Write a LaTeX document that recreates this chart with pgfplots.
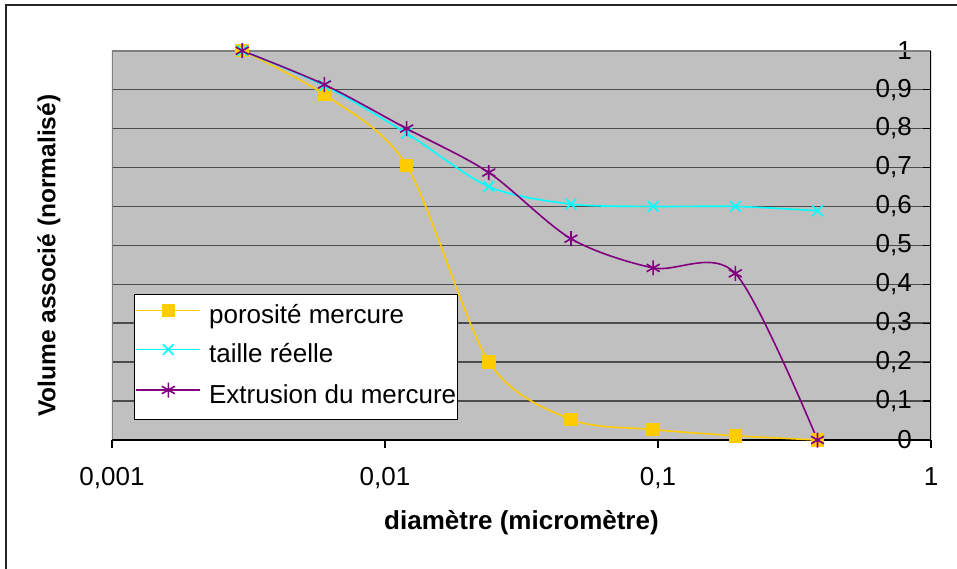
\documentclass[border=0pt]{standalone}
\usepackage{fontspec}
\setmainfont{Liberation Sans}
\usepackage{pgfplots}
\pgfplotsset{compat=1.18}
\definecolor{bgray}{RGB}{192,192,192}
\definecolor{myyellow}{RGB}{255,204,0}
\definecolor{mycyan}{RGB}{0,255,255}
\definecolor{mypurple}{RGB}{128,0,128}
\begin{document}
\begin{tikzpicture}[x=1pt,y=1pt]
\useasboundingbox (0,0) rectangle (957,568);
\draw[line width=1.2pt, black!85] (6,-20) -- (6,563) -- (980,563);
\begin{axis}[
  at={(112pt,128pt)}, anchor=south west,
  scale only axis, width=819pt, height=389.3pt,
  xmode=log, xmin=0.001, xmax=1, ymin=0, ymax=1,
  axis background/.style={fill=bgray},
  axis line style={draw=none},
  ymajorgrids, grid style={black!70, line width=1.5pt},
  xtick={0.001,0.01,0.1,1},
  xticklabels={{0,001},{0,01},{0,1},{1}},
  minor xtick={}, xminorticks=false,
  ytick={0,0.1,0.2,0.3,0.4,0.5,0.6,0.7,0.8,0.9,1},
  yticklabels={0,{0,1},{0,2},{0,3},{0,4},{0,5},{0,6},{0,7},{0,8},{0,9},1},
  xtick pos=bottom, xtick align=outside,
  ytick pos=right, ytick align=inside,
  yticklabel pos=right,
  major tick length=8pt,
  tick style={black, line width=1.2pt},
  xticklabel style={font=\fontsize{26}{30}\selectfont, inner sep=0pt, yshift=-19pt},
  yticklabel style={font=\fontsize{26}{30}\selectfont, anchor=east, inner sep=0pt, xshift=-19pt},
  xlabel={diamètre (micromètre)},
  ylabel={Volume associé (normalisé)},
  xlabel style={font=\fontsize{26}{30}\selectfont\bfseries, at={(axis description cs:0.5,0)}, anchor=center, yshift=-83pt},
  ylabel style={font=\fontsize{24.5}{28}\selectfont\bfseries, at={(axis description cs:0,0.473)}, anchor=center, yshift=63pt},
  legend style={at={(0.0269,0.375)}, anchor=north west, draw=black, fill=white, line width=1pt,
    font=\fontsize{26}{30}\selectfont, inner xsep=1pt, inner ysep=10pt, row sep=14pt, column sep=8pt,
    nodes={inner sep=0pt, text height=19pt, text depth=6pt}},
  legend cell align=left,
  legend image code/.code={\draw[mark repeat=2,mark phase=2,#1] plot coordinates {(0pt,6.5pt) (32pt,6.5pt) (64pt,6.5pt)};},
]
\draw[black!50, line width=2pt] (rel axis cs:0,0) -- (rel axis cs:0,1) -- (rel axis cs:1,1);
\draw[black, line width=1.5pt] (rel axis cs:0,0) -- (rel axis cs:1,0) -- (rel axis cs:1,1);
\addplot[myyellow, line width=1.6pt, smooth, mark=square*, mark size=6pt, mark options={fill=myyellow, draw=myyellow}]
  coordinates {(0.003,1)(0.006,0.887)(0.012,0.705)(0.024,0.201)(0.048,0.053)(0.096,0.027)(0.192,0.011)(0.384,0)};
\addlegendentry{porosité mercure}
\addplot[mycyan, line width=1.6pt, smooth, mark=x, mark size=7.5pt, mark options={line width=1.6pt}]
  coordinates {(0.003,1)(0.006,0.91)(0.012,0.788)(0.024,0.651)(0.048,0.606)(0.096,0.60)(0.192,0.60)(0.384,0.589)};
\addlegendentry{taille réelle}
\addplot[mypurple, line width=1.6pt, smooth, mark=asterisk, mark size=7.5pt, mark options={line width=1.6pt}]
  coordinates {(0.003,1)(0.006,0.913)(0.012,0.80)(0.024,0.687)(0.048,0.517)(0.096,0.442)(0.192,0.428)(0.384,0)};
\addlegendentry{Extrusion du mercure}
\end{axis}
\end{tikzpicture}
\end{document}
